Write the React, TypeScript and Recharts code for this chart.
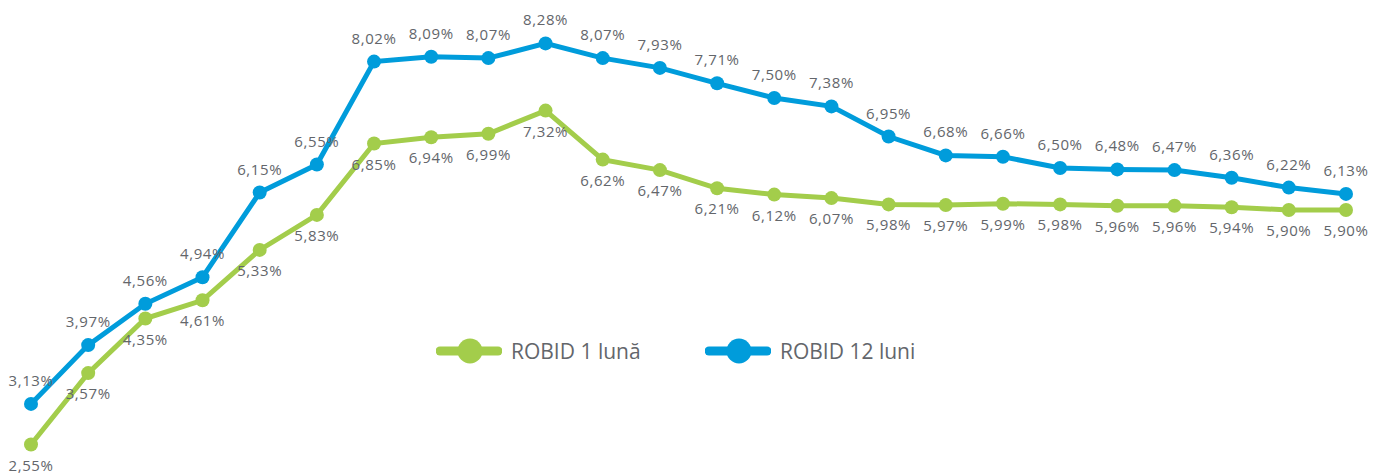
import { LineChart, Line, XAxis, YAxis, LabelList } from "recharts";

// luni (24 de observatii)
const perioade = Array.from({ length: 24 }, (_, i) => `P${i + 1}`);

const robid1Luna = [
  2.55, 3.57, 4.35, 4.61, 5.33, 5.83, 6.85, 6.94, 6.99, 7.32, 6.62, 6.47,
  6.21, 6.12, 6.07, 5.98, 5.97, 5.99, 5.98, 5.96, 5.96, 5.94, 5.9, 5.9,
];

const robid12Luni = [
  3.13, 3.97, 4.56, 4.94, 6.15, 6.55, 8.02, 8.09, 8.07, 8.28, 8.07, 7.93,
  7.71, 7.5, 7.38, 6.95, 6.68, 6.66, 6.5, 6.48, 6.47, 6.36, 6.22, 6.13,
];

const VERDE = "#a3cd4b";
const ALBASTRU = "#009cdb";
const GRI = "#63666b";
const FONT = "'Open Sans', Roboto, sans-serif";

const data = perioade.map((p, i) => ({
  perioada: p,
  luna1: robid1Luna[i],
  luni12: robid12Luni[i],
}));

const fmt = (v: number) => v.toFixed(2).replace(".", ",") + "%";

const makeLabel = (dy: number) => (props: any) => {
  const { x, y, value } = props;
  return (
    <text
      x={x}
      y={y + dy}
      textAnchor="middle"
      dominantBaseline="middle"
      fontSize={15}
      letterSpacing={0.6}
      fontFamily={FONT}
      fill={GRI}
    >
      {fmt(value)}
    </text>
  );
};

// legenda desenata separat, ca sa nu micsoreze zona graficului
const Legenda = () => {
  const items = [
    { name: "ROBID 1 lună", color: VERDE },
    { name: "ROBID 12 luni", color: ALBASTRU },
  ];
  return (
    <div
      style={{ position: "absolute", left: 436, top: 337, display: "flex" }}
    >
      {items.map((it, i) => (
        <div
          key={it.name}
          style={{
            display: "flex",
            alignItems: "center",
            width: i === 0 ? 269 : 220,
          }}
        >
          <svg width={66} height={26}>
            <line
              x1={4}
              y1={13}
              x2={62}
              y2={13}
              stroke={it.color}
              strokeWidth={9}
              strokeLinecap="round"
            />
            <circle cx={34} cy={13} r={12.5} fill={it.color} />
          </svg>
          <span
            style={{
              marginLeft: 9,
              fontSize: 21,
              fontFamily: FONT,
              color: GRI,
              whiteSpace: "nowrap",
            }}
          >
            {it.name}
          </span>
        </div>
      ))}
    </div>
  );
};

export default function App() {
  return (
    <div
      style={{
        position: "absolute",
        left: 0,
        top: 0,
        width: 1373,
        height: 475,
        background: "#fff",
      }}
    >
      <LineChart
        width={1373}
        height={475}
        data={data}
        margin={{ top: 28, right: 27, bottom: 27, left: 31 }}
      >
        <XAxis dataKey="perioada" hide />
        <YAxis hide domain={[2.5, 8.5]} />
        <Line
          dataKey="luna1"
          name="ROBID 1 lună"
          stroke={VERDE}
          strokeWidth={5}
          dot={{ r: 7, fill: VERDE, stroke: VERDE, strokeWidth: 0 }}
          isAnimationActive={false}
        >
          <LabelList dataKey="luna1" content={makeLabel(22)} />
        </Line>
        <Line
          dataKey="luni12"
          name="ROBID 12 luni"
          stroke={ALBASTRU}
          strokeWidth={5}
          dot={{ r: 7, fill: ALBASTRU, stroke: ALBASTRU, strokeWidth: 0 }}
          isAnimationActive={false}
        >
          <LabelList dataKey="luni12" content={makeLabel(-22)} />
        </Line>
      </LineChart>
      <Legenda />
    </div>
  );
}
